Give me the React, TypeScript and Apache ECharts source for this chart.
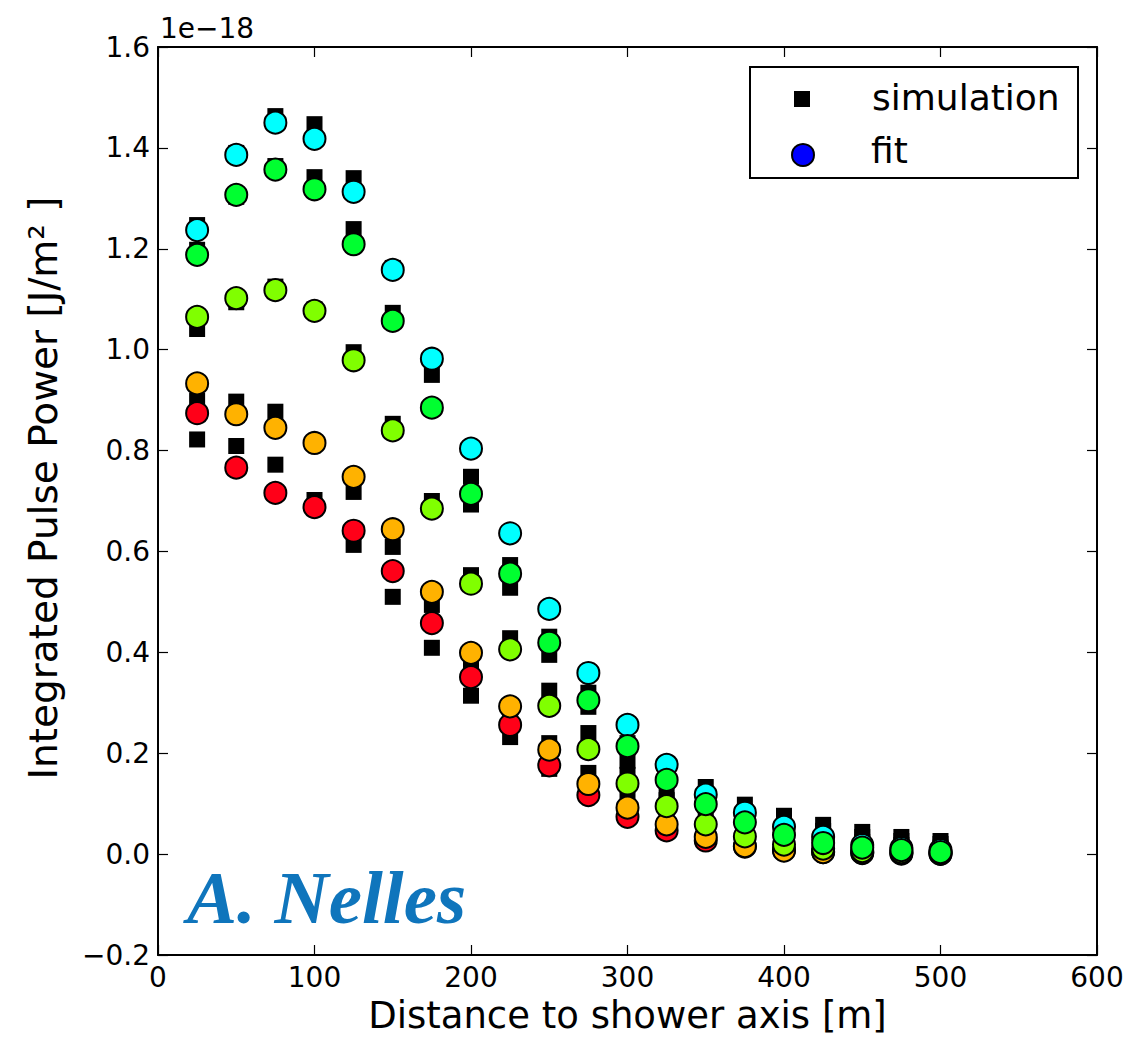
import React, { useEffect, useRef } from "react";
import * as echarts from "echarts";

// Distance to shower axis [m]
const distances = [25, 50, 75, 100, 125, 150, 175, 200, 225, 250, 275, 300, 325, 350, 375, 400, 425, 450, 475, 500];

// Simulation (black squares), units of 1e-18 J/m^2
const simA = [1.247, 1.390, 1.463, 1.447, 1.340, 1.162, 0.950, 0.748, 0.573, 0.431, 0.320, 0.220, 0.160, 0.133, 0.098, 0.076, 0.058, 0.044, 0.034, 0.026];
const simB = [1.198, 1.303, 1.364, 1.342, 1.239, 1.073, 0.884, 0.693, 0.528, 0.395, 0.292, 0.185, 0.127, 0.110, 0.085, 0.062, 0.046, 0.034, 0.026, 0.020];
const simC = [1.041, 1.094, 1.125, 1.080, 0.995, 0.853, 0.700, 0.553, 0.428, 0.324, 0.240, 0.157, 0.107, 0.085, 0.066, 0.048, 0.034, 0.024, 0.018, 0.013];
const simD = [0.899, 0.897, 0.877, 0.815, 0.718, 0.609, 0.494, 0.376, 0.275, 0.220, 0.161, 0.120, 0.080, 0.058, 0.042, 0.030, 0.020, 0.014, 0.010, 0.007];
const simE = [0.822, 0.809, 0.772, 0.702, 0.613, 0.510, 0.409, 0.314, 0.232, 0.169, 0.125, 0.088, 0.058, 0.038, 0.026, 0.017, 0.011, 0.007, 0.005, 0.003];

// Fit (coloured circles)
const fitRed = [0.874, 0.766, 0.716, 0.688, 0.641, 0.561, 0.458, 0.351, 0.256, 0.176, 0.117, 0.074, 0.047, 0.027, 0.015, 0.008, 0.004, 0.002, 0.001, 0.0005];
const fitOrange = [0.933, 0.872, 0.845, 0.815, 0.748, 0.644, 0.520, 0.399, 0.293, 0.207, 0.139, 0.092, 0.059, 0.034, 0.016, 0.007, 0.004, 0.003, 0.002, 0.001];
const fitYellowGreen = [1.065, 1.102, 1.118, 1.077, 0.979, 0.840, 0.685, 0.536, 0.406, 0.294, 0.208, 0.140, 0.095, 0.059, 0.035, 0.019, 0.011, 0.006, 0.004, 0.002];
const fitCyan = [1.237, 1.386, 1.450, 1.418, 1.313, 1.158, 0.982, 0.804, 0.636, 0.486, 0.359, 0.256, 0.177, 0.118, 0.082, 0.054, 0.034, 0.018, 0.012, 0.008];
const fitGreen = [1.188, 1.307, 1.357, 1.318, 1.209, 1.057, 0.885, 0.714, 0.556, 0.419, 0.305, 0.214, 0.147, 0.099, 0.063, 0.038, 0.022, 0.013, 0.008, 0.004];

const simSeries = [simA, simB, simC, simD, simE];
const fitSeries = [
  { values: fitRed, color: "#ff0018" },
  { values: fitOrange, color: "#ffb200" },
  { values: fitYellowGreen, color: "#80ff00" },
  { values: fitCyan, color: "#00ffff" },
  { values: fitGreen, color: "#00ff30" },
];

const FONT = "DejaVu Sans";

const pairs = (vals: number[]) => distances.map((d, i) => [d, vals[i]]);

const fmtY = (v: number) => {
  const s = Math.abs(v).toFixed(1);
  return v < -1e-9 ? "\u2212" + s : s;
};

export default function App() {
  const ref = useRef<HTMLDivElement>(null);
  useEffect(() => {
    const chart = echarts.init(ref.current!, null, { renderer: "svg" });
    const series: any[] = [];
    simSeries.forEach((s) => {
      series.push({
        type: "scatter",
        name: "simulation",
        data: pairs(s),
        symbol: "rect",
        symbolSize: 16,
        itemStyle: { color: "#000000", opacity: 1 },
        emphasis: { disabled: true },
        z: 2,
      });
    });
    fitSeries.forEach((f) => {
      series.push({
        type: "scatter",
        name: "fit",
        data: pairs(f.values),
        symbol: "circle",
        symbolSize: 22,
        itemStyle: { color: f.color, borderColor: "#000000", borderWidth: 2, opacity: 1 },
        emphasis: { disabled: true },
        z: 3,
      });
    });

    const axisLine = { show: true, onZero: false, lineStyle: { color: "#000", width: 2 } };
    const axisTick = { show: true, inside: true, length: 10, lineStyle: { color: "#000", width: 1.2 } };

    chart.setOption({
      animation: false,
      backgroundColor: "#ffffff",
      grid: { left: 158, right: 26, top: 47, bottom: 82, containLabel: false, outerBoundsMode: "none" },
      xAxis: [
        {
          type: "value",
          min: 0,
          max: 600,
          interval: 100,
          position: "bottom",
          axisLine,
          axisTick,
          splitLine: { show: false },
          axisLabel: { color: "#000", fontFamily: FONT, fontSize: 28, margin: 8 },
          name: "Distance to shower axis [m]",
          nameLocation: "middle",
          nameGap: 42,
          nameTextStyle: { color: "#000", fontFamily: FONT, fontSize: 37 },
        },
        {
          type: "value",
          min: 0,
          max: 600,
          interval: 100,
          position: "top",
          axisLine,
          axisTick,
          splitLine: { show: false },
          axisLabel: { show: false },
        },
      ],
      yAxis: [
        {
          type: "value",
          min: -0.2,
          max: 1.6,
          interval: 0.2,
          position: "left",
          axisLine,
          axisTick,
          splitLine: { show: false },
          axisLabel: { color: "#000", fontFamily: FONT, fontSize: 28, margin: 8, formatter: fmtY },
          name: "Integrated Pulse Power [J/m\u00b2 ]",
          nameLocation: "middle",
          nameGap: 95,
          nameTextStyle: { color: "#000", fontFamily: FONT, fontSize: 39, padding: [0, 0, 0, 26] },
        },
        {
          type: "value",
          min: -0.2,
          max: 1.6,
          interval: 0.2,
          position: "right",
          axisLine,
          axisTick,
          splitLine: { show: false },
          axisLabel: { show: false },
        },
      ],
      graphic: [
        {
          type: "text",
          left: 160,
          top: 14,
          style: { text: "1e\u221218", fontFamily: FONT, fontSize: 28, fill: "#000" },
          z: 10,
        },
        {
          type: "text",
          x: 187,
          y: 897,
          style: {
            text: "A. Nelles",
            fontFamily: "Liberation Serif",
            fontWeight: "bold",
            fontStyle: "italic",
            fontSize: 75,
            fill: "#0f75bc",
            verticalAlign: "middle",
            align: "left",
          },
          z: 10,
        },
        {
          type: "group",
          z: 20,
          children: [
            {
              type: "rect",
              shape: { x: 750, y: 67, width: 328, height: 111 },
              style: { fill: "#ffffff", stroke: "#000000", lineWidth: 2 },
            },
            {
              type: "rect",
              shape: { x: 794, y: 91, width: 16, height: 16 },
              style: { fill: "#000000" },
            },
            {
              type: "circle",
              shape: { cx: 803, cy: 155, r: 11 },
              style: { fill: "#0000ff", stroke: "#000000", lineWidth: 2 },
            },
            {
              type: "text",
              x: 872,
              y: 97,
              style: { text: "simulation", fontFamily: FONT, fontSize: 36, fill: "#000", verticalAlign: "middle", align: "left" },
            },
            {
              type: "text",
              x: 871,
              y: 150,
              style: { text: "fit", fontFamily: FONT, fontSize: 36, fill: "#000", verticalAlign: "middle", align: "left" },
            },
          ],
        },
      ],
      series,
    });
    return () => chart.dispose();
  }, []);
  return <div ref={ref} style={{ position: "fixed", left: 0, top: 0, width: 1123, height: 1037 }} />;
}
